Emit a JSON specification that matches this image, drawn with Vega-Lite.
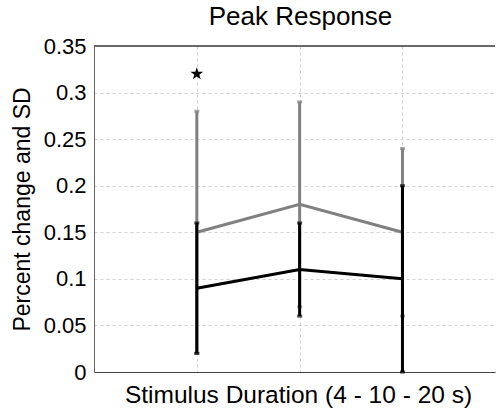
{
  "$schema": "https://vega.github.io/schema/vega-lite/v6.json",
  "width": 401,
  "height": 326,
  "padding": {"left": 11, "top": 4, "right": 0, "bottom": 5},
  "background": "white",
  "config": {
    "view": {"stroke": null},
    "font": "Liberation Sans",
    "axis": {
      "labelFont": "Liberation Sans",
      "titleFont": "Liberation Sans",
      "labelFontSize": 22,
      "titleFontSize": 23,
      "titleFontWeight": "normal",
      "labelColor": "#000",
      "titleColor": "#000"
    }
  },
  "title": {
    "text": "Peak Response",
    "font": "Liberation Sans",
    "fontSize": 26,
    "fontWeight": "normal",
    "color": "#000",
    "anchor": "middle",
    "dx": 6,
    "offset": 5
  },
  "data": {"values": [
      {"x": 1, "series": "gray", "mean": 0.15, "lo": 0.02, "hi": 0.28},
      {"x": 2, "series": "gray", "mean": 0.18, "lo": 0.07, "hi": 0.29},
      {"x": 3, "series": "gray", "mean": 0.15, "lo": 0.06, "hi": 0.24},
      {"x": 1, "series": "black", "mean": 0.09, "lo": 0.02, "hi": 0.16},
      {"x": 2, "series": "black", "mean": 0.11, "lo": 0.06, "hi": 0.16},
      {"x": 3, "series": "black", "mean": 0.10, "lo": 0.0, "hi": 0.20},
      {"x": 1, "series": "star", "mean": 0.32, "lo": null, "hi": null}
  ]},
  "encoding": {
    "x": {
      "field": "x", "type": "quantitative",
      "scale": {"domain": [0, 3.9], "nice": false, "zero": false},
      "axis": {
        "title": "Stimulus Duration (4 - 10 - 20 s)",
        "titleFontSize": 24.5,
        "titleX": 204,
        "labels": false,
        "values": [1, 2, 3],
        "grid": true, "gridDash": [3, 3], "gridColor": "#d0d0d0",
        "domainColor": "#444", "tickColor": "#444", "tickSize": 0,
        "titlePadding": 11
      }
    }
  },
  "layer": [
    {
      "mark": {"type": "rule", "color": "#666666", "strokeWidth": 1},
      "encoding": {"x": null, "y": {"datum": 0.35, "type": "quantitative", "title": "Percent change and SD"}}
    },
    {
      "transform": [{"filter": "datum.series == 'gray'"}],
      "layer": [
        {
          "mark": {"type": "rule", "color": "#808080", "strokeWidth": 3},
          "encoding": {
            "y": {"field": "lo", "type": "quantitative", "title": "Percent change and SD",
              "scale": {"domain": [0, 0.35], "nice": false},
              "axis": {
                "values": [0, 0.05, 0.1, 0.15, 0.2, 0.25, 0.3, 0.35],
                "format": "~g",
                "grid": true, "gridDash": [3, 3], "gridColor": "#d0d0d0",
                "domainColor": "#666", "tickColor": "#666", "tickSize": 0,
                "labelPadding": 8, "titlePadding": 9
              }
            },
            "y2": {"field": "hi"}
          }
        },
        {
          "mark": {"type": "tick", "orient": "horizontal", "color": "#808080", "thickness": 3, "size": 5},
          "encoding": {"y": {"field": "hi", "type": "quantitative", "title": "Percent change and SD"}}
        },
        {
          "mark": {"type": "tick", "orient": "horizontal", "color": "#808080", "thickness": 3, "size": 5},
          "encoding": {"y": {"field": "lo", "type": "quantitative", "title": "Percent change and SD"}}
        },
        {
          "mark": {"type": "line", "color": "#808080", "strokeWidth": 3},
          "encoding": {"y": {"field": "mean", "type": "quantitative", "title": "Percent change and SD"}}
        }
      ]
    },
    {
      "transform": [{"filter": "datum.series == 'black'"}],
      "layer": [
        {
          "mark": {"type": "rule", "color": "#000000", "strokeWidth": 3},
          "encoding": {
            "y": {"field": "lo", "type": "quantitative", "title": "Percent change and SD"},
            "y2": {"field": "hi"}
          }
        },
        {
          "mark": {"type": "tick", "orient": "horizontal", "color": "#000000", "thickness": 3, "size": 5},
          "encoding": {"y": {"field": "hi", "type": "quantitative", "title": "Percent change and SD"}}
        },
        {
          "mark": {"type": "tick", "orient": "horizontal", "color": "#000000", "thickness": 3, "size": 5},
          "encoding": {"y": {"field": "lo", "type": "quantitative", "title": "Percent change and SD"}}
        },
        {
          "mark": {"type": "line", "color": "#000000", "strokeWidth": 3},
          "encoding": {"y": {"field": "mean", "type": "quantitative", "title": "Percent change and SD"}}
        }
      ]
    },
    {
      "transform": [{"filter": "datum.series == 'star'"}],
      "mark": {"type": "point", "shape": "M0,-1L0.225,-0.309L0.951,-0.309L0.363,0.118L0.588,0.809L0,0.382L-0.588,0.809L-0.363,0.118L-0.951,-0.309L-0.225,-0.309Z", "filled": true, "color": "#000000", "size": 180, "opacity": 1},
      "encoding": {
        "y": {"field": "mean", "type": "quantitative", "title": "Percent change and SD"}
      }
    }
  ]
}
